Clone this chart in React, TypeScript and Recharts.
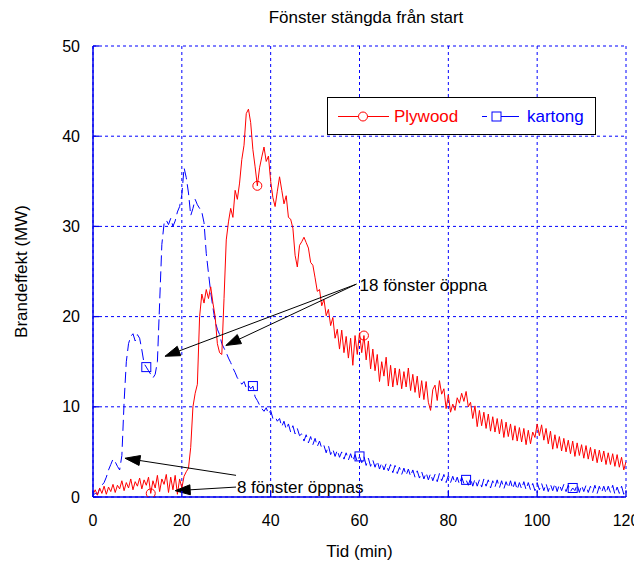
import React from 'react';
import {
  LineChart,
  Line,
  XAxis,
  YAxis,
  CartesianGrid,
  ReferenceLine,
  ReferenceDot,
  Legend,
} from 'recharts';

// Sampling interval of both measured series (minutes)
const TIME_STEP = 0.5;

// Plywood heat release rate (MW), one value per TIME_STEP from 0 to 120 min
const plywood = [
  0.3, 0.8, 0.2, 1.0, 0.4, 1.2, 0.3, 1.1, 0.6, 1.4, 0.5, 1.3, 0.9, 1.8, 0.7, 1.6, 1.0, 2.0, 0.8, 1.7,
  1.2, 2.1, 0.9, 1.9, 1.3, 2.2, 0.4, 1.8, 1.0, 2.4, 0.6, 2.0, 1.4, 2.5, 0.5, 2.2, 0.8, 2.4, 0.3, 2.0,
  1.0, 2.3, 2.8, 3.2, 5.5, 10.0, 11.5, 12.5, 20.0, 22.5, 21.5, 23.0, 22.0, 23.3, 21.5, 20.0, 17.0, 16.0, 15.8, 22.0,
  28.5, 30.5, 32.0, 31.0, 34.0, 33.0, 34.8, 37.4, 39.0, 42.5, 43.0, 41.5, 38.5, 36.6, 34.5, 36.5, 37.7, 38.8, 37.2, 37.8,
  35.0, 33.2, 32.2, 33.9, 35.5, 34.0, 32.5, 33.4, 31.0, 30.8, 29.8, 26.8, 25.5, 27.9, 28.3, 28.8, 28.2, 27.6, 26.0, 25.7,
  24.3, 22.8, 23.0, 21.2, 21.9, 20.1, 20.8, 19.0, 19.9, 17.6, 18.6, 16.4, 18.5, 16.0, 17.8, 15.4, 17.6, 14.6, 17.9, 15.8,
  18.2, 16.0, 17.9, 15.2, 17.3, 14.2, 16.4, 14.0, 15.8, 12.8, 15.0, 13.4, 15.5, 12.3, 14.6, 12.2, 14.3, 12.4, 14.2, 12.0,
  13.9, 12.2, 14.3, 11.8, 13.6, 11.6, 13.4, 11.0, 12.9, 10.8, 12.8, 10.5, 9.6, 11.9, 12.4, 10.7, 12.9, 11.4, 12.0, 9.8,
  11.3, 9.4, 10.3, 9.6, 11.0, 10.4, 11.5, 10.6, 11.7, 10.0, 10.5, 8.7, 10.1, 7.8, 9.6, 7.9, 9.4, 7.6, 9.2, 7.3,
  8.9, 7.2, 8.7, 7.0, 8.6, 6.6, 8.3, 6.7, 8.1, 6.3, 7.9, 6.2, 7.7, 6.1, 7.6, 5.8, 7.4, 5.9, 7.2, 6.6,
  8.1, 6.8, 8.0, 6.3, 7.6, 5.9, 7.3, 5.3, 6.9, 5.4, 6.7, 5.1, 6.5, 5.0, 6.3, 4.8, 6.2, 4.5, 6.0, 4.6,
  5.8, 4.3, 5.7, 4.2, 5.5, 4.0, 5.3, 3.8, 5.2, 3.9, 5.1, 3.6, 4.9, 3.6, 4.8, 3.4, 4.7, 3.3, 4.4, 3.0,
  3.9,
];

// Kartong (cardboard) heat release rate (MW), one value per TIME_STEP from 0 to 120 min
const kartong = [
  0.2, 0.4, 0.3, 0.9, 1.3, 1.6, 2.2, 3.0, 3.6, 4.2, 3.9, 3.4, 3.0, 4.6, 10.5, 15.0, 17.0, 17.8, 18.1, 17.3,
  18.0, 17.6, 16.3, 14.8, 14.4, 14.0, 13.6, 13.2, 13.6, 15.0, 21.5, 28.0, 30.3, 30.7, 30.2, 30.9, 30.0, 30.6, 31.6, 32.2,
  33.5, 36.5, 35.4, 33.7, 31.2, 32.0, 33.0, 32.4, 32.0, 31.6, 30.4, 27.0, 24.8, 22.7, 21.0, 19.5, 18.6, 18.0, 17.0, 16.5,
  16.0, 15.4, 14.9, 14.3, 13.8, 13.2, 12.9, 12.5, 12.8, 12.1, 12.4, 12.0, 12.3, 11.1, 10.7, 10.2, 9.8, 9.5, 9.9, 9.2,
  9.6, 8.7, 8.9, 8.4, 8.7, 7.8, 8.4, 7.5, 8.1, 7.2, 7.9, 7.0, 7.6, 6.8, 7.0, 6.2, 6.9, 6.0, 6.7, 5.8,
  6.5, 5.6, 6.2, 5.4, 5.7, 4.9, 5.7, 4.7, 5.3, 4.5, 5.2, 4.4, 5.0, 4.2, 4.9, 4.1, 4.8, 4.0, 4.7, 3.9,
  4.5, 3.8, 4.5, 3.5, 4.3, 3.4, 4.1, 3.3, 4.0, 3.1, 3.8, 3.0, 3.7, 2.9, 3.6, 2.7, 3.5, 2.6, 3.3, 2.5,
  3.2, 2.4, 3.1, 2.3, 3.0, 2.2, 2.9, 2.1, 2.8, 2.0, 2.7, 1.9, 2.6, 1.8, 2.5, 1.7, 2.6, 1.8, 2.5, 1.6,
  2.4, 1.6, 2.3, 1.5, 2.2, 1.4, 2.2, 1.5, 1.9, 1.3, 2.1, 1.2, 2.0, 1.2, 1.9, 1.1, 2.0, 1.2, 1.9, 1.0,
  1.8, 1.1, 1.9, 1.0, 1.8, 0.9, 1.7, 1.0, 1.8, 0.9, 1.7, 0.8, 1.6, 0.9, 1.7, 0.8, 1.6, 0.8, 1.5, 0.7,
  1.6, 0.8, 1.5, 0.7, 1.5, 0.6, 1.4, 0.7, 1.5, 0.6, 1.4, 0.7, 1.4, 0.6, 1.3, 0.6, 1.0, 0.7, 1.4, 0.5,
  1.3, 0.6, 1.3, 0.5, 1.2, 0.5, 1.3, 0.4, 1.2, 0.5, 1.2, 0.4, 1.2, 0.5, 1.3, 0.3, 1.1, 0.4, 1.2, 0.3,
  1.1,
];

// Times (min) at which the series markers are drawn
const plywoodMarkerTimes = [13, 37, 61];
const kartongMarkerTimes = [12, 36, 60, 84, 108];

// Axis ticks
const xTicks = [0, 20, 40, 60, 80, 100, 120];
const yTicks = [0, 10, 20, 30, 40, 50];

// Texts
const titleText = 'Fönster stängda från start';
const xLabelText = 'Tid (min)';
const yLabelText = 'Brandeffekt (MW)';
const seriesNames = ['Plywood', 'kartong'];

// Annotations in data coordinates [min, MW]
const annotationTexts = [
  { text: '18 fönster öppna', t: 60, v: 23.5 },
  { text: '8 fönster öppnas', t: 32.4, v: 1.1 },
];
const annotationArrows = [
  { from: [59.3, 23.6], to: [16.2, 15.6] },
  { from: [59.3, 23.6], to: [29.9, 16.8] },
  { from: [32.2, 2.4], to: [7.2, 4.3] },
  { from: [32.2, 1.1], to: [18.5, 0.7] },
];

const data = plywood.map((p, i) => ({ t: i * TIME_STEP, plywood: p, kartong: kartong[i] }));

const FONT = "'Liberation Sans', Arial, Helvetica, sans-serif";
const RED = '#ff0000';
const BLUE = '#0000ff';
const FRAME = '#0000ee';
const TICK_LEN = 6;
const X_TICK_MARGIN = 23;
const Y_TICK_MARGIN = 13;
const CHART_W = 634;
const CHART_H = 557;

if (typeof document !== 'undefined') {
  document.documentElement.style.overflow = 'hidden';
}

const BottomTick = (props: any) => {
  const { x, y, payload } = props;
  return (
    <g>
      <line x1={x} x2={x} y1={y - X_TICK_MARGIN} y2={y - X_TICK_MARGIN - TICK_LEN} stroke={FRAME} strokeWidth={1.3} />
      <text x={x} y={y} dy="0.35em" textAnchor="middle" fontSize={16} fontFamily={FONT} fill="#000">
        {payload.value}
      </text>
    </g>
  );
};

const TopTick = (props: any) => {
  const { x, y } = props;
  return <line x1={x} x2={x} y1={y} y2={y + TICK_LEN} stroke={FRAME} strokeWidth={1.3} />;
};

const LeftTick = (props: any) => {
  const { x, y, payload } = props;
  return (
    <g>
      <line x1={x + Y_TICK_MARGIN} x2={x + Y_TICK_MARGIN + TICK_LEN} y1={y} y2={y} stroke={FRAME} strokeWidth={1.3} />
      <text x={x} y={y} dy="0.35em" textAnchor="end" fontSize={16} fontFamily={FONT} fill="#000">
        {payload.value}
      </text>
    </g>
  );
};

const RightTick = (props: any) => {
  const { x, y } = props;
  return <line x1={x} x2={x - TICK_LEN} y1={y} y2={y} stroke={FRAME} strokeWidth={1.3} />;
};

const ArrowShape = (props: any) => {
  const { x1, y1, x2, y2 } = props;
  const dx = x2 - x1;
  const dy = y2 - y1;
  const len = Math.sqrt(dx * dx + dy * dy) || 1;
  const ux = dx / len;
  const uy = dy / len;
  const headLen = 15;
  const halfW = 5;
  const bx = x2 - ux * headLen;
  const by = y2 - uy * headLen;
  const px = -uy * halfW;
  const py = ux * halfW;
  return (
    <g>
      <line x1={x1} y1={y1} x2={bx} y2={by} stroke="#000" strokeWidth={1} />
      <polygon points={`${x2},${y2} ${bx + px},${by + py} ${bx - px},${by - py}`} fill="#000" stroke="#000" />
    </g>
  );
};

const makeTextShape = (text: string) => (props: any) => (
  <text x={props.cx} y={props.cy} dy="0.35em" textAnchor="start" fontSize={17} fontFamily={FONT} fill="#000">
    {text}
  </text>
);

const plywoodDot = (props: any) => {
  const { cx, cy, payload, index } = props;
  if (!plywoodMarkerTimes.includes(payload.t)) return <g key={`pd-${index}`} />;
  return <circle key={`pd-${index}`} cx={cx} cy={cy} r={4.5} fill="none" stroke={RED} strokeWidth={1} strokeDasharray="none" />;
};

const kartongDot = (props: any) => {
  const { cx, cy, payload, index } = props;
  if (!kartongMarkerTimes.includes(payload.t)) return <g key={`kd-${index}`} />;
  return (
    <rect key={`kd-${index}`} x={cx - 4.5} y={cy - 4.5} width={9} height={9} fill="none" stroke={BLUE} strokeWidth={1} strokeDasharray="none" />
  );
};

const LegendBox = () => (
  <div
    style={{
      position: 'relative',
      width: 269,
      height: 38,
      boxSizing: 'border-box',
      border: '1.5px solid #000',
      background: '#fff',
      fontFamily: FONT,
      fontSize: 17,
    }}
  >
    <svg width={269} height={38} style={{ position: 'absolute', left: -1.5, top: -1.5 }}>
      <line x1={11} x2={62} y1={19.5} y2={19.5} stroke={RED} strokeWidth={1} />
      <circle cx={36} cy={19.5} r={4.5} fill="#fff" stroke={RED} strokeWidth={1} />
      <line x1={155} x2={192} y1={19.5} y2={19.5} stroke={BLUE} strokeWidth={1} strokeDasharray="5 5 30" />
      <rect x={165} y={15} width={9} height={9} fill="#fff" stroke={BLUE} strokeWidth={1} />
      <text x={67} y={19.5} dy="0.35em" fill={RED} fontSize={17} fontFamily={FONT}>
        {seriesNames[0]}
      </text>
      <text x={200} y={19.5} dy="0.35em" fill={BLUE} fontSize={17} fontFamily={FONT}>
        {seriesNames[1]}
      </text>
    </svg>
  </div>
);

export default function App() {
  return (
    <div style={{ position: 'relative', width: CHART_W, height: CHART_H, fontFamily: FONT, overflow: 'hidden' }}>
      <div
        style={{
          position: 'absolute',
          left: 358,
          top: 0,
          transform: 'translateX(-50%)',
          whiteSpace: 'nowrap',
          fontSize: 17,
          lineHeight: '20px',
          color: '#000',
          zIndex: 2,
        }}
      >
        {titleText}
      </div>
      <LineChart
        width={CHART_W}
        height={CHART_H}
        data={data}
        margin={{ top: 38, right: 16, bottom: 8, left: 12 }}
        style={{ fontFamily: FONT, display: 'block' }}
      >
        <CartesianGrid
          stroke={BLUE}
          strokeDasharray="3 3"
          strokeWidth={1}
          horizontalValues={yTicks}
          verticalValues={xTicks}
        />
        <XAxis
          dataKey="t"
          type="number"
          domain={[0, 120]}
          ticks={xTicks}
          allowDataOverflow
          height={60}
          tickSize={0}
          tickMargin={X_TICK_MARGIN}
          tick={<BottomTick />}
          axisLine={{ stroke: FRAME, strokeWidth: 1.5 }}
          tickLine={false}
          label={{
            content: (p: any) => {
              const vb = p.viewBox;
              return (
                <text x={vb.x + vb.width / 2} y={vb.y + 54} dy="0.35em" textAnchor="middle" fontSize={17} fontFamily={FONT} fill="#000">
                  {xLabelText}
                </text>
              );
            },
          }}
        />
        <XAxis
          xAxisId="top"
          orientation="top"
          dataKey="t"
          type="number"
          domain={[0, 120]}
          ticks={xTicks}
          allowDataOverflow
          height={0}
          tickSize={0}
          tickMargin={0}
          tick={<TopTick />}
          axisLine={{ stroke: FRAME, strokeWidth: 1.5 }}
          tickLine={false}
        />
        <YAxis
          type="number"
          domain={[0, 50]}
          ticks={yTicks}
          allowDataOverflow
          width={73}
          tickSize={0}
          tickMargin={Y_TICK_MARGIN}
          tick={<LeftTick />}
          axisLine={{ stroke: FRAME, strokeWidth: 1.5 }}
          tickLine={false}
          label={{
            content: (p: any) => {
              const vb = p.viewBox;
              const cx = vb.x + 1;
              const cy = vb.y + vb.height / 2;
              return (
                <text x={cx} y={cy} dy="0.35em" textAnchor="middle" fontSize={17} fontFamily={FONT} fill="#000" transform={`rotate(-90, ${cx}, ${cy})`}>
                  {yLabelText}
                </text>
              );
            },
          }}
        />
        <YAxis
          yAxisId="right"
          orientation="right"
          type="number"
          domain={[0, 50]}
          ticks={yTicks}
          allowDataOverflow
          width={0}
          tickSize={0}
          tickMargin={0}
          tick={<RightTick />}
          axisLine={{ stroke: FRAME, strokeWidth: 1.5 }}
          tickLine={false}
        />
        <Line
          type="linear"
          dataKey="kartong"
          name={seriesNames[1]}
          stroke={BLUE}
          strokeWidth={1}
          strokeDasharray="11 5"
          dot={kartongDot}
          activeDot={false}
          isAnimationActive={false}
        />
        <Line
          type="linear"
          dataKey="plywood"
          name={seriesNames[0]}
          stroke={RED}
          strokeWidth={1}
          dot={plywoodDot}
          activeDot={false}
          isAnimationActive={false}
        />
        {annotationArrows.map((a, i) => (
          <ReferenceLine
            key={`arrow-${i}`}
            segment={[
              { x: a.from[0], y: a.from[1] },
              { x: a.to[0], y: a.to[1] },
            ]}
            shape={(p: any) => <ArrowShape {...p} />}
          />
        ))}
        {annotationTexts.map((a, i) => (
          <ReferenceDot key={`atext-${i}`} x={a.t} y={a.v} r={0} shape={makeTextShape(a.text)} />
        ))}
        <Legend
          layout="vertical"
          verticalAlign="middle"
          align="center"
          wrapperStyle={{ left: 319, top: 89, width: 269, height: 38 }}
          content={() => <LegendBox />}
        />
      </LineChart>
    </div>
  );
}
